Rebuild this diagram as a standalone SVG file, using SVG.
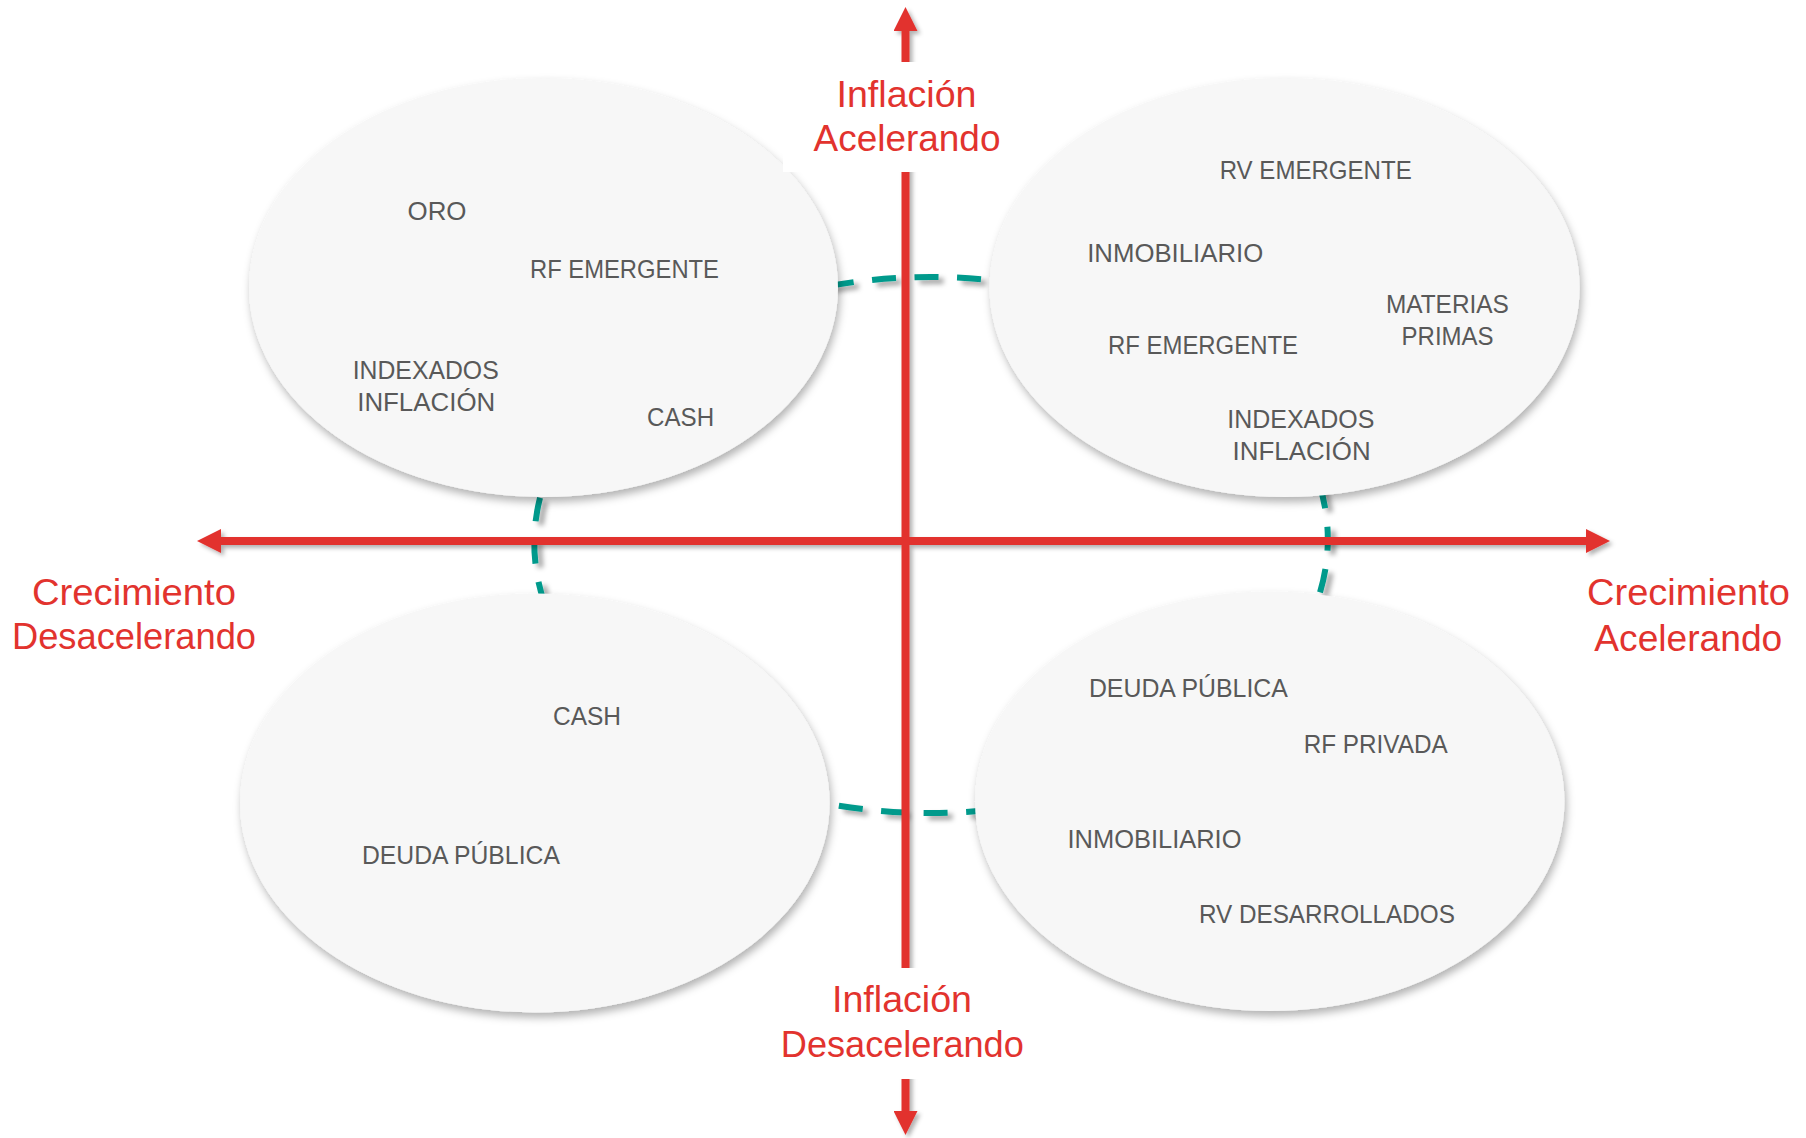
<svg xmlns="http://www.w3.org/2000/svg" width="1806" height="1138" viewBox="0 0 1806 1138">
  <defs>
    <filter id="shNode" x="-10%" y="-10%" width="125%" height="130%">
      <feDropShadow dx="2" dy="5" stdDeviation="4" flood-color="#000" flood-opacity="0.3"/>
    </filter>
    <filter id="shLine" x="-10%" y="-10%" width="130%" height="130%">
      <feDropShadow dx="3" dy="3" stdDeviation="2" flood-color="#000" flood-opacity="0.3"/>
    </filter>
    <filter id="shDash" x="-20%" y="-20%" width="150%" height="150%">
      <feDropShadow dx="5" dy="4" stdDeviation="2.5" flood-color="#000" flood-opacity="0.35"/>
    </filter>
    <marker id="arrow" markerUnits="userSpaceOnUse" viewBox="0 0 24 24" markerWidth="24" markerHeight="24" refX="2" refY="12" orient="auto-start-reverse">
      <path d="M0,0 L24,12 L0,24 z" fill="#E2332E"/>
    </marker>
  </defs>
  <style>
    .node { fill: #F7F7F7; filter: url(#shNode); }
    .item { font-family: "Liberation Sans", Arial, sans-serif; font-size: 26px; fill: #595959; text-anchor: middle; }
    .axis { stroke: #E2332E; stroke-width: 8; fill: none; }
    .axlabel { font-family: "Liberation Sans", Arial, sans-serif; font-size: 36px; fill: #E2332E; text-anchor: middle; }
    .conn { fill: none; stroke: #009A8C; stroke-width: 6; stroke-dasharray: 24 18.5; }
  </style>
  <rect width="1806" height="1138" fill="#FFFFFF"/>

  <g id="connectors" filter="url(#shDash)">
    <path class="conn" d="M830,285.8 A395.5,268 0 0,1 990,280"/>
    <path class="conn" d="M1319.6,485 A395.5,268 0 0,1 1317.6,600"/>
    <path class="conn" d="M990,810 A395.5,268 0 0,1 822,802.7"/>
    <path class="conn" d="M545,605 A395.5,268 0 0,1 543.7,485"/>
  </g>

  <g id="node-inflacion-acel-crec-desacel">
    <ellipse class="node" cx="543.5" cy="287.5" rx="294.5" ry="209.5"/>
    <text class="item" x="437" y="219.5" textLength="59" lengthAdjust="spacingAndGlyphs">ORO</text>
    <text class="item" x="624.5" y="277.6" textLength="189" lengthAdjust="spacingAndGlyphs">RF EMERGENTE</text>
    <text class="item" x="425.7" y="379.2" textLength="146" lengthAdjust="spacingAndGlyphs">INDEXADOS</text>
    <text class="item" x="426.2" y="410.7" textLength="138" lengthAdjust="spacingAndGlyphs">INFLACIÓN</text>
    <text class="item" x="680.6" y="426.3" textLength="67" lengthAdjust="spacingAndGlyphs">CASH</text>
  </g>

  <g id="node-inflacion-acel-crec-acel">
    <ellipse class="node" cx="1284.6" cy="287.5" rx="295" ry="209.5"/>
    <text class="item" x="1315.7" y="178.5" textLength="192" lengthAdjust="spacingAndGlyphs">RV EMERGENTE</text>
    <text class="item" x="1175.2" y="262" textLength="176" lengthAdjust="spacingAndGlyphs">INMOBILIARIO</text>
    <text class="item" x="1447.4" y="312.8" textLength="123" lengthAdjust="spacingAndGlyphs">MATERIAS</text>
    <text class="item" x="1447.6" y="344.7" textLength="92" lengthAdjust="spacingAndGlyphs">PRIMAS</text>
    <text class="item" x="1203" y="353.8" textLength="190" lengthAdjust="spacingAndGlyphs">RF EMERGENTE</text>
    <text class="item" x="1300.8" y="428.2" textLength="147" lengthAdjust="spacingAndGlyphs">INDEXADOS</text>
    <text class="item" x="1301.6" y="460.1" textLength="138" lengthAdjust="spacingAndGlyphs">INFLACIÓN</text>
  </g>

  <g id="node-inflacion-desacel-crec-desacel">
    <ellipse class="node" cx="534.8" cy="803" rx="294.8" ry="209.4"/>
    <text class="item" x="587" y="725" textLength="68" lengthAdjust="spacingAndGlyphs">CASH</text>
    <text class="item" x="460.9" y="863.6" textLength="198" lengthAdjust="spacingAndGlyphs">DEUDA PÚBLICA</text>
  </g>

  <g id="node-inflacion-desacel-crec-acel">
    <ellipse class="node" cx="1269.7" cy="801.3" rx="294.7" ry="209.7"/>
    <text class="item" x="1188.4" y="696.7" textLength="199" lengthAdjust="spacingAndGlyphs">DEUDA PÚBLICA</text>
    <text class="item" x="1375.7" y="753.3" textLength="144" lengthAdjust="spacingAndGlyphs">RF PRIVADA</text>
    <text class="item" x="1154.5" y="848.4" textLength="174" lengthAdjust="spacingAndGlyphs">INMOBILIARIO</text>
    <text class="item" x="1326.9" y="922.8" textLength="256" lengthAdjust="spacingAndGlyphs">RV DESARROLLADOS</text>
  </g>

  <g id="axes" filter="url(#shLine)">
    <line class="axis" x1="219" y1="541" x2="1588" y2="541" marker-start="url(#arrow)" marker-end="url(#arrow)"/>
    <line class="axis" x1="905.5" y1="29" x2="905.5" y2="1113" marker-start="url(#arrow)" marker-end="url(#arrow)"/>
  </g>

  <g id="axis-labels">
    <rect x="783" y="62" width="246" height="110" fill="#FFFFFF"/>
    <rect x="770" y="968" width="270" height="111" fill="#FFFFFF"/>
    <g id="label-top">
      <text class="axlabel" x="906.5" y="107" textLength="140" lengthAdjust="spacingAndGlyphs">Inflación</text>
      <text class="axlabel" x="907" y="150.6" textLength="187" lengthAdjust="spacingAndGlyphs">Acelerando</text>
    </g>
    <g id="label-bottom">
      <text class="axlabel" x="902" y="1011.7" textLength="140" lengthAdjust="spacingAndGlyphs">Inflación</text>
      <text class="axlabel" x="902.3" y="1057" textLength="243" lengthAdjust="spacingAndGlyphs">Desacelerando</text>
    </g>
    <g id="label-left">
      <text class="axlabel" x="134" y="604.6" textLength="204" lengthAdjust="spacingAndGlyphs">Crecimiento</text>
      <text class="axlabel" x="134" y="648.8" textLength="244" lengthAdjust="spacingAndGlyphs">Desacelerando</text>
    </g>
    <g id="label-right">
      <text class="axlabel" x="1688.5" y="605" textLength="203" lengthAdjust="spacingAndGlyphs">Crecimiento</text>
      <text class="axlabel" x="1688.3" y="650.6" textLength="188" lengthAdjust="spacingAndGlyphs">Acelerando</text>
    </g>
  </g>
</svg>
